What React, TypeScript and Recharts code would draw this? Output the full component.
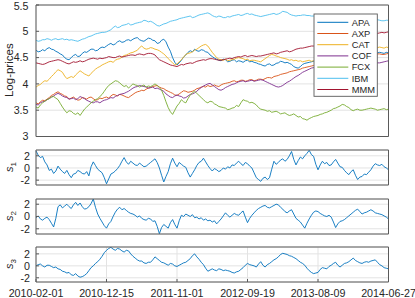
import React from 'react';
import { LineChart, Line, XAxis, YAxis, CartesianGrid } from 'recharts';

// ---------- data ----------
const dateLabels = ['2010-02-01', '2010-12-15', '2011-11-01', '2012-09-19', '2013-08-09', '2014-06-27'];

const tickers = ['APA', 'AXP', 'CAT', 'COF', 'FCX', 'IBM', 'MMM'];
const tickerColors = ['#0072BD', '#D95319', '#EDB120', '#7E2F8E', '#77AC30', '#4DBEEE', '#A2142F'];

const apa = [
  4.64, 4.61, 4.62, 4.65, 4.63, 4.67, 4.69, 4.66, 4.65, 4.62, 4.60, 4.57, 4.55, 4.50, 4.47, 4.46, 4.50, 4.54, 4.56, 4.52,
  4.53, 4.58, 4.61, 4.60, 4.63, 4.66, 4.66, 4.63, 4.64, 4.68, 4.70, 4.69, 4.72, 4.75, 4.77, 4.74, 4.76, 4.80, 4.82, 4.79,
  4.80, 4.83, 4.84, 4.82, 4.85, 4.87, 4.88, 4.84, 4.82, 4.81, 4.84, 4.87, 4.86, 4.83, 4.82, 4.77, 4.78, 4.83, 4.85, 4.80,
  4.70, 4.62, 4.50, 4.41, 4.36, 4.40, 4.45, 4.51, 4.55, 4.60, 4.63, 4.61, 4.66, 4.63, 4.62, 4.65, 4.64, 4.61, 4.60, 4.55,
  4.52, 4.49, 4.47, 4.45, 4.44, 4.47, 4.46, 4.42, 4.43, 4.45, 4.46, 4.42, 4.44, 4.43, 4.41, 4.44, 4.45, 4.42, 4.43, 4.41,
  4.40, 4.38, 4.37, 4.35, 4.34, 4.37, 4.38, 4.35, 4.36, 4.39, 4.40, 4.43, 4.42, 4.40, 4.41, 4.39, 4.37, 4.33, 4.31, 4.30,
  4.33, 4.37, 4.39, 4.40, 4.41, 4.42, 4.43, 4.45, 4.46, 4.47, 4.48, 4.47, 4.50, 4.51, 4.52, 4.50, 4.49, 4.52, 4.53, 4.56,
  4.55, 4.53, 4.54, 4.56, 4.57, 4.55, 4.56, 4.58, 4.58, 4.57, 4.60, 4.61, 4.59, 4.60, 4.61, 4.59, 4.60, 4.59, 4.58, 4.60,
  4.59,
];
const axp = [
  3.64, 3.62, 3.66, 3.69, 3.68, 3.71, 3.74, 3.78, 3.80, 3.83, 3.85, 3.82, 3.80, 3.77, 3.76, 3.71, 3.73, 3.75, 3.72, 3.69,
  3.70, 3.74, 3.73, 3.71, 3.74, 3.75, 3.72, 3.69, 3.70, 3.73, 3.72, 3.74, 3.75, 3.73, 3.77, 3.80, 3.79, 3.77, 3.80, 3.79,
  3.77, 3.75, 3.74, 3.77, 3.80, 3.83, 3.85, 3.86, 3.88, 3.87, 3.90, 3.92, 3.93, 3.95, 3.96, 3.97, 3.94, 3.92, 3.91, 3.88,
  3.86, 3.84, 3.82, 3.79, 3.78, 3.81, 3.84, 3.87, 3.86, 3.84, 3.85, 3.86, 3.88, 3.91, 3.92, 3.94, 3.95, 3.94, 3.97, 3.95,
  3.96, 3.98, 3.96, 3.95, 3.98, 4.00, 4.01, 4.02, 4.03, 4.05, 4.06, 4.04, 4.05, 4.07, 4.07, 4.05, 4.06, 4.08, 4.08, 4.06,
  4.07, 4.09, 4.09, 4.08, 4.10, 4.12, 4.12, 4.11, 4.14, 4.15, 4.16, 4.18, 4.19, 4.20, 4.21, 4.23, 4.24, 4.25, 4.26, 4.27,
  4.28, 4.30, 4.31, 4.32, 4.33, 4.34, 4.35, 4.36, 4.37, 4.37, 4.38, 4.39, 4.40, 4.41, 4.42, 4.43, 4.43, 4.44, 4.45, 4.46,
  4.46, 4.47, 4.48, 4.49, 4.49, 4.50, 4.51, 4.51, 4.52, 4.53, 4.53, 4.54, 4.55, 4.56, 4.56, 4.57, 4.57, 4.56, 4.56, 4.57,
  4.58,
];
const cat = [
  3.94, 3.97, 3.99, 4.03, 4.06, 4.05, 4.09, 4.14, 4.18, 4.23, 4.27, 4.25, 4.22, 4.15, 4.10, 4.12, 4.14, 4.12, 4.17, 4.21,
  4.25, 4.22, 4.19, 4.17, 4.15, 4.20, 4.24, 4.28, 4.31, 4.33, 4.36, 4.38, 4.40, 4.42, 4.43, 4.41, 4.45, 4.47, 4.48, 4.51,
  4.54, 4.55, 4.57, 4.59, 4.60, 4.62, 4.64, 4.69, 4.72, 4.68, 4.66, 4.67, 4.69, 4.68, 4.66, 4.65, 4.63, 4.60, 4.57, 4.53,
  4.48, 4.44, 4.40, 4.36, 4.38, 4.42, 4.46, 4.51, 4.56, 4.58, 4.59, 4.61, 4.64, 4.66, 4.69, 4.72, 4.74, 4.75, 4.72, 4.66,
  4.60, 4.55, 4.50, 4.47, 4.46, 4.45, 4.47, 4.44, 4.45, 4.46, 4.47, 4.49, 4.50, 4.49, 4.48, 4.46, 4.47, 4.44, 4.45, 4.45,
  4.44, 4.43, 4.42, 4.45, 4.48, 4.51, 4.54, 4.56, 4.55, 4.53, 4.52, 4.50, 4.49, 4.48, 4.47, 4.45, 4.46, 4.44, 4.45, 4.43,
  4.44, 4.42, 4.43, 4.44, 4.45, 4.43, 4.44, 4.45, 4.46, 4.47, 4.48, 4.49, 4.50, 4.51, 4.52, 4.54, 4.55, 4.56, 4.57, 4.58,
  4.58, 4.59, 4.60, 4.61, 4.62, 4.62, 4.63, 4.64, 4.65, 4.65, 4.66, 4.67, 4.67, 4.68, 4.68, 4.69, 4.70, 4.69, 4.68, 4.70,
  4.69,
];
const cof = [
  3.61, 3.60, 3.64, 3.66, 3.67, 3.70, 3.72, 3.75, 3.77, 3.80, 3.82, 3.80, 3.77, 3.75, 3.74, 3.71, 3.72, 3.73, 3.70, 3.72,
  3.76, 3.74, 3.72, 3.69, 3.67, 3.65, 3.64, 3.66, 3.66, 3.64, 3.67, 3.69, 3.70, 3.72, 3.74, 3.73, 3.76, 3.78, 3.80, 3.81,
  3.82, 3.84, 3.86, 3.89, 3.92, 3.94, 3.95, 3.97, 3.96, 3.95, 3.94, 3.92, 3.93, 3.94, 3.91, 3.92, 3.90, 3.88, 3.86, 3.81,
  3.78, 3.75, 3.74, 3.77, 3.79, 3.77, 3.76, 3.73, 3.74, 3.77, 3.80, 3.81, 3.83, 3.86, 3.90, 3.93, 3.96, 3.98, 4.00, 4.01,
  3.98, 3.95, 3.92, 3.89, 3.88, 3.90, 3.93, 3.95, 3.97, 3.99, 4.00, 4.02, 4.04, 4.05, 4.06, 4.04, 4.05, 4.06, 4.07, 4.05,
  4.06, 4.07, 4.08, 4.07, 4.05, 4.03, 4.01, 3.99, 3.97, 3.95, 3.94, 3.95, 3.97, 4.00, 4.03, 4.05, 4.08, 4.11, 4.14, 4.16,
  4.19, 4.22, 4.24, 4.26, 4.28, 4.30, 4.31, 4.30, 4.30, 4.31, 4.31, 4.32, 4.33, 4.31, 4.32, 4.33, 4.34, 4.34, 4.35, 4.33,
  4.34, 4.35, 4.36, 4.37, 4.37, 4.35, 4.36, 4.37, 4.38, 4.39, 4.39, 4.37, 4.38, 4.39, 4.39, 4.40, 4.40, 4.41, 4.42, 4.43,
  4.44,
];
const fcx = [
  3.56, 3.54, 3.60, 3.64, 3.67, 3.70, 3.72, 3.75, 3.76, 3.73, 3.70, 3.63, 3.56, 3.50, 3.45, 3.49, 3.48, 3.44, 3.42, 3.45,
  3.40, 3.46, 3.52, 3.56, 3.60, 3.64, 3.67, 3.70, 3.72, 3.76, 3.80, 3.86, 3.92, 3.97, 4.00, 4.03, 4.06, 4.05, 4.02, 3.98,
  3.95, 3.97, 3.92, 3.96, 4.00, 3.98, 3.97, 3.94, 3.96, 3.98, 3.94, 3.96, 3.95, 3.97, 4.00, 3.97, 3.93, 3.88, 3.78, 3.66,
  3.55, 3.47, 3.42, 3.50, 3.58, 3.63, 3.70, 3.66, 3.64, 3.72, 3.79, 3.83, 3.86, 3.82, 3.78, 3.74, 3.70, 3.66, 3.64, 3.67,
  3.66, 3.62, 3.60, 3.57, 3.56, 3.55, 3.54, 3.51, 3.52, 3.54, 3.55, 3.59, 3.57, 3.64, 3.70, 3.68, 3.67, 3.64, 3.65, 3.63,
  3.60, 3.55, 3.52, 3.51, 3.50, 3.48, 3.49, 3.46, 3.47, 3.48, 3.46, 3.43, 3.44, 3.45, 3.42, 3.40, 3.41, 3.43, 3.40, 3.37,
  3.38, 3.34, 3.33, 3.31, 3.34, 3.36, 3.38, 3.39, 3.40, 3.42, 3.43, 3.45, 3.46, 3.48, 3.50, 3.53, 3.54, 3.56, 3.58, 3.61,
  3.60, 3.57, 3.55, 3.51, 3.49, 3.51, 3.52, 3.50, 3.50, 3.51, 3.52, 3.53, 3.54, 3.53, 3.52, 3.50, 3.51, 3.52, 3.53, 3.51,
  3.52,
];
const ibm = [
  4.83, 4.81, 4.82, 4.84, 4.84, 4.86, 4.85, 4.83, 4.85, 4.86, 4.84, 4.85, 4.86, 4.84, 4.85, 4.83, 4.84, 4.83, 4.82, 4.81,
  4.83, 4.85, 4.86, 4.88, 4.90, 4.91, 4.93, 4.95, 4.96, 4.97, 4.98, 4.98, 4.99, 5.01, 5.03, 5.07, 5.10, 5.07, 5.08, 5.11,
  5.12, 5.13, 5.15, 5.12, 5.13, 5.15, 5.16, 5.17, 5.18, 5.21, 5.20, 5.18, 5.19, 5.17, 5.14, 5.11, 5.10, 5.12, 5.14, 5.15,
  5.17, 5.19, 5.20, 5.21, 5.22, 5.24, 5.25, 5.26, 5.27, 5.28, 5.29, 5.26, 5.27, 5.29, 5.31, 5.32, 5.33, 5.34, 5.35, 5.33,
  5.30, 5.28, 5.27, 5.29, 5.28, 5.26, 5.26, 5.28, 5.27, 5.29, 5.30, 5.31, 5.32, 5.30, 5.31, 5.33, 5.34, 5.32, 5.33, 5.31,
  5.30, 5.29, 5.28, 5.29, 5.30, 5.31, 5.32, 5.33, 5.34, 5.32, 5.33, 5.35, 5.38, 5.37, 5.36, 5.33, 5.31, 5.30, 5.29, 5.30,
  5.30, 5.31, 5.31, 5.30, 5.30, 5.29, 5.29, 5.28, 5.28, 5.29, 5.28, 5.27, 5.27, 5.26, 5.26, 5.27, 5.26, 5.25, 5.25, 5.26,
  5.25, 5.24, 5.24, 5.25, 5.24, 5.23, 5.23, 5.24, 5.23, 5.22, 5.22, 5.23, 5.22, 5.21, 5.21, 5.22, 5.21, 5.20, 5.20, 5.21,
  5.21,
];
const mmm = [
  4.40, 4.39, 4.38, 4.37, 4.38, 4.40, 4.42, 4.43, 4.44, 4.45, 4.46, 4.45, 4.43, 4.41, 4.39, 4.38, 4.40, 4.42, 4.41, 4.42,
  4.44, 4.42, 4.43, 4.45, 4.47, 4.48, 4.49, 4.48, 4.47, 4.49, 4.48, 4.49, 4.50, 4.52, 4.51, 4.50, 4.50, 4.52, 4.53, 4.51,
  4.52, 4.53, 4.54, 4.55, 4.55, 4.54, 4.56, 4.57, 4.56, 4.55, 4.57, 4.58, 4.58, 4.57, 4.55, 4.50, 4.46, 4.44, 4.42, 4.40,
  4.38, 4.36, 4.35, 4.34, 4.33, 4.35, 4.37, 4.36, 4.38, 4.39, 4.40, 4.39, 4.41, 4.43, 4.44, 4.45, 4.46, 4.45, 4.47, 4.48,
  4.48, 4.47, 4.46, 4.45, 4.45, 4.46, 4.47, 4.48, 4.49, 4.48, 4.50, 4.51, 4.52, 4.51, 4.53, 4.54, 4.52, 4.53, 4.54, 4.53,
  4.52, 4.53, 4.53, 4.54, 4.55, 4.56, 4.57, 4.58, 4.59, 4.57, 4.58, 4.60, 4.61, 4.62, 4.63, 4.61, 4.62, 4.64, 4.66, 4.67,
  4.68, 4.68, 4.69, 4.70, 4.71, 4.72, 4.72, 4.73, 4.74, 4.75, 4.76, 4.77, 4.78, 4.78, 4.79, 4.80, 4.81, 4.82, 4.83, 4.84,
  4.85, 4.85, 4.86, 4.87, 4.88, 4.89, 4.90, 4.90, 4.91, 4.92, 4.93, 4.94, 4.95, 4.95, 4.96, 4.96, 4.97, 4.98, 4.97, 4.98,
  4.99,
];

const s1 = [
  2.8, 2.1, 1.7, 1.9, 1.0, 0.5, -0.4, -0.2, -0.9, -0.5, 0.3, -0.2, -0.6, -0.9, -0.4, -1.1, -1.6, -1.0, -0.9, -0.4,
  -0.6, -0.9, -1.0, -0.6, -1.3, 0.2, 1.0, 0.4, -0.2, -0.5, -0.8, -1.6, -2.6, -1.8, -1.0, -0.8, -0.5, -0.1, 0.4, 1.1,
  1.7, 1.0, 0.6, 1.1, 0.8, 0.5, 0.4, 0.8, 0.5, 0.2, 0.3, 0.6, 0.9, 1.2, 1.5, 0.9, 0.0, -1.2, -2.3, -1.4,
  -0.6, 0.7, 1.6, 0.8, 0.2, 0.9, 0.6, 0.3, 0.1, -0.8, -1.5, -0.9, -0.3, 0.4, 0.9, 1.1, 1.6, 1.0, 0.4, -0.1,
  -0.5, -0.1, -0.3, -0.6, -0.4, 0.0, -0.2, 0.2, 0.0, 0.5, 0.4, 0.8, 1.1, 0.7, 0.4, 0.9, 0.7, 0.3, 0.0, -0.8,
  -1.6, -1.9, -2.2, -1.7, -1.5, -1.9, -1.6, -0.2, 1.1, 0.6, 0.9, 1.3, 1.5, 1.1, 1.4, 2.0, 2.7, 1.4, 0.5, 1.2,
  1.8, 1.5, 2.0, 2.4, 2.9, 2.2, 1.9, 0.6, -0.3, 0.5, 1.1, 0.7, 0.9, 0.4, 0.5, 1.0, 1.4, 0.8, 0.2, 0.1,
  -0.4, -0.8, -1.1, -0.6, -0.3, -1.2, -1.9, -1.5, -1.4, -1.0, -1.1, -0.7, -0.3, 0.3, 0.7, 0.5, 0.4, 0.6, 0.2, 0.0,
  -0.3,
];
const s2 = [
  -0.2, 0.1, -0.4, -0.6, -0.3, -0.1, -0.5, -1.1, -1.7, -0.3, 1.6, 1.9, 1.4, 1.7, 2.0, 1.6, 1.3, 1.9, 2.3, 1.8,
  2.2, 1.6, 1.2, 1.3, 1.6, 2.1, 2.85, 1.5, 0.4, -0.3, -0.9, -1.5, -1.9, -1.2, -0.8, 0.0, 0.7, 1.2, 1.5, 1.1,
  1.3, 1.0, 0.7, 0.5, 0.4, 0.2, -0.1, 0.1, -0.3, -0.5, -0.6, -0.3, -0.4, -0.8, -0.7, -1.6, -2.8, -1.8, -1.3, -1.6,
  -1.9, -1.0, -0.5, -1.3, -1.9, -0.7, 0.2, 0.0, 0.4, 0.2, 0.0, 0.3, -0.2, -0.1, -0.4, -0.2, -0.6, -0.4, -0.7, -0.6,
  -0.9, -0.7, -1.2, -0.8, -0.4, 0.1, 0.6, 0.2, -0.1, 0.2, 0.5, 0.3, 0.2, 0.6, 0.9, -0.1, -1.0, -0.3, 0.2, 0.6,
  1.0, 1.3, 1.5, 1.7, 1.8, 1.5, 1.4, 1.6, 1.8, 2.0, 1.9, 1.5, 1.2, 0.8, 0.6, 0.9, 1.1, 0.4, -0.3, -0.6,
  -0.9, -1.4, -1.9, -1.1, -0.4, 0.2, 0.7, 0.9, 0.8, 0.5, 0.3, 0.1, 0.0, 0.2, -0.1, -0.9, -1.8, -1.2, -0.8, -0.7,
  -0.5, -0.2, 0.1, 0.4, 0.7, 1.0, 1.2, 0.8, 0.4, 0.6, 0.7, 0.9, 1.1, 0.9, 0.6, 0.5, 0.4, 0.3, 0.1, -0.1,
  -0.4,
];
const s3 = [
  0.0, 0.2, 0.3, 0.0, -0.2, 0.1, 0.1, -0.1, -0.3, -0.2, -0.5, -0.6, -0.9, -1.0, -1.2, -1.1, -1.5, -1.6, -1.3, -1.7,
  -1.9, -1.8, -1.6, -1.3, -0.8, -0.3, 0.0, 0.4, 0.7, 1.1, 1.6, 2.2, 2.6, 2.9, 3.1, 2.8, 2.6, 2.9, 2.8, 2.5,
  2.3, 2.6, 2.5, 2.0, 1.6, 1.3, 1.0, 0.8, 0.8, 0.5, 0.4, 0.6, 0.6, 1.0, 1.5, 1.2, 0.9, 0.6, 0.5, 0.3,
  0.1, 0.4, 0.3, 0.0, -0.1, 0.1, 0.3, 0.5, 0.6, 0.9, 1.2, 1.7, 2.0, 1.5, 1.1, 0.6, 0.2, -0.4, -0.9, -0.7,
  -0.5, -0.7, -0.8, -0.5, -0.6, -0.8, -0.7, -0.8, -0.9, -1.1, -1.2, -1.0, -0.9, -0.6, -0.3, 0.1, 0.4, 0.2, 0.1, 0.0,
  -0.2, 0.3, 0.7, 0.1, -0.2, 0.2, 0.4, 0.7, 1.0, 1.2, 1.5, 1.9, 2.1, 2.0, 1.9, 1.7, 1.6, 1.4, 1.2, 0.9,
  0.6, 0.4, 0.1, -0.4, -0.8, -1.1, -1.3, -1.2, -1.1, -0.6, -0.3, -0.4, -0.5, -0.1, 0.1, 0.4, 0.6, 0.1, -0.2, 0.1,
  0.4, 0.5, 0.7, 1.0, 1.3, 0.9, 0.7, 0.5, 0.4, 0.6, 0.7, 0.6, 0.8, 0.9, 1.0, 0.6, 0.2, 0.0, -0.3, -0.4,
  -0.5,
];

const priceTicks = [3, 3.5, 4, 4.5, 5, 5.5];
const factorTicks = [-2, 0, 2];

// ---------- tables built from the arrays ----------
const X_MAX = apa.length - 1;
const TICK_STEP = X_MAX / (dateLabels.length - 1);
const dateTickIdx = dateLabels.map((_, k) => k * TICK_STEP);

const priceSeries = [apa, axp, cat, cof, fcx, ibm, mmm];
const priceData = apa.map((_, i) => {
  const row: Record<string, number> = { i };
  tickers.forEach((t, k) => {
    row[t] = priceSeries[k][i];
  });
  return row;
});
const factorData = s1.map((_, i) => ({ i, s1: s1[i], s2: s2[i], s3: s3[i] }));

// ---------- styling ----------
const W = 415;
const H = 298;
const PLOT_L = 36;
const PLOT_R = 388.5;
const AX = '#262626';
const BOX = '#5a5a5a';
const GRID = '#e3e3e3';
const FONT = '"Liberation Sans", Arial, Helvetica, sans-serif';
const TICK_FS = 10.7;
const MT = 9;
const TOP_AXIS_H = 1;

function YTick(props: any) {
  const { x, y, payload } = props;
  const yy = Math.max(y, MT + TOP_AXIS_H + 1.5);
  return (
    <text x={x} y={yy} dy="0.36em" textAnchor="end" fontSize={TICK_FS} fill={AX} fontFamily={FONT}>
      {payload.value}
    </text>
  );
}

type PanelProps = {
  plotTop: number;
  plotH: number;
  data: any[];
  series: { key: string; color: string }[];
  yDomain: [number, number];
  yTicks: number[];
  yGap: number;
  showX: boolean;
};

function Panel(p: PanelProps) {
  const botAxisH = p.showX ? 22 : 1;
  const mb = 8;
  const h = MT + TOP_AXIS_H + p.plotH + botAxisH + mb;
  const tickStyle = { fontSize: TICK_FS, fill: AX, fontFamily: FONT };
  return (
    <div style={{ position: 'absolute', left: 0, top: p.plotTop - MT - TOP_AXIS_H }}>
      <LineChart
        width={W}
        height={h}
        data={p.data}
        margin={{ top: MT, right: W - PLOT_R - 1, bottom: mb, left: PLOT_L - 36 }}
      >
        <CartesianGrid stroke={GRID} strokeWidth={1} />
        <XAxis
          dataKey="i"
          type="number"
          domain={[0, X_MAX]}
          ticks={dateTickIdx}
          interval={0}
          height={botAxisH}
          tickSize={-3}
          tickMargin={10.5}
          axisLine={{ stroke: BOX, strokeWidth: 1 }}
          tickLine={{ stroke: BOX, strokeWidth: 1 }}
          tick={p.showX ? tickStyle : false}
          tickFormatter={(v: number) => dateLabels[Math.round(v / TICK_STEP)] ?? ''}
        />
        <XAxis
          xAxisId="top"
          orientation="top"
          dataKey="i"
          type="number"
          domain={[0, X_MAX]}
          ticks={dateTickIdx}
          interval={0}
          height={TOP_AXIS_H}
          tickSize={-3}
          axisLine={{ stroke: BOX, strokeWidth: 1 }}
          tickLine={{ stroke: BOX, strokeWidth: 1 }}
          tick={false}
        />
        <YAxis
          type="number"
          domain={p.yDomain}
          ticks={p.yTicks}
          interval={0}
          width={36}
          tickSize={-3}
          tickMargin={p.yGap}
          axisLine={{ stroke: BOX, strokeWidth: 1 }}
          tickLine={{ stroke: BOX, strokeWidth: 1 }}
          tick={<YTick />}
          allowDataOverflow
        />
        <YAxis
          yAxisId="right"
          orientation="right"
          type="number"
          domain={p.yDomain}
          ticks={p.yTicks}
          interval={0}
          width={1}
          tickSize={-3}
          axisLine={{ stroke: BOX, strokeWidth: 1 }}
          tickLine={{ stroke: BOX, strokeWidth: 1 }}
          tick={false}
          allowDataOverflow
        />
        {p.series.map((s) => (
          <Line
            key={s.key}
            dataKey={s.key}
            stroke={s.color}
            strokeWidth={0.9}
            dot={false}
            activeDot={false}
            isAnimationActive={false}
          />
        ))}
      </LineChart>
    </div>
  );
}

const factorPanels = [
  { key: 's1', sub: '1', top: 149.5, domain: [-2.8, 2.95] as [number, number] },
  { key: 's2', sub: '2', top: 198.5, domain: [-2.85, 2.85] as [number, number] },
  { key: 's3', sub: '3', top: 246.5, domain: [-2.7, 3.15] as [number, number] },
];
const FACTOR_H = 35;

export default function App() {
  const legendX = 314;
  const legendY = 14;
  const rowH = 11.2;
  return (
    <div style={{ position: 'absolute', left: 0, top: 0, width: W, height: H, background: '#fff', overflow: 'hidden' }}>
      <Panel
        plotTop={4.5}
        plotH={131.5}
        data={priceData}
        series={tickers.map((t, k) => ({ key: t, color: tickerColors[k] }))}
        yDomain={[3, 5.5]}
        yTicks={priceTicks}
        yGap={10.5}
        showX={false}
      />
      {factorPanels.map((fp, idx) => (
        <Panel
          key={fp.key}
          plotTop={fp.top}
          plotH={FACTOR_H}
          data={factorData}
          series={[{ key: fp.key, color: '#0072BD' }]}
          yDomain={fp.domain}
          yTicks={factorTicks}
          yGap={9}
          showX={idx === factorPanels.length - 1}
        />
      ))}
      <svg width={W} height={H} style={{ position: 'absolute', left: 0, top: 0, pointerEvents: 'none' }}>
        <text
          transform="translate(13.2, 70.2) rotate(-90)"
          textAnchor="middle"
          fontFamily={FONT}
          fontSize={11.5}
          fill={AX}
        >
          Log-prices
        </text>
        {factorPanels.map((fp) => (
          <text
            key={fp.key}
            transform={`translate(13, ${fp.top + FACTOR_H / 2}) rotate(-90)`}
            textAnchor="middle"
            fontFamily={FONT}
            fontSize={11}
            fill={AX}
          >
            <tspan fontStyle="italic">s</tspan>
            <tspan fontSize={8} dy={2.5}>
              {fp.sub}
            </tspan>
          </text>
        ))}
        <rect x={legendX} y={legendY} width={63.3} height={82.3} fill="#fff" stroke={BOX} strokeWidth={0.9} />
        {tickers.map((t, k) => {
          const cy = 22.3 + k * rowH;
          return (
            <g key={t}>
              <line x1={317.3} x2={348.3} y1={cy} y2={cy} stroke={tickerColors[k]} strokeWidth={1} />
              <text x={351.7} y={cy + 3.3} fontFamily={FONT} fontSize={9.3} fill={AX}>
                {t}
              </text>
            </g>
          );
        })}
      </svg>
    </div>
  );
}
